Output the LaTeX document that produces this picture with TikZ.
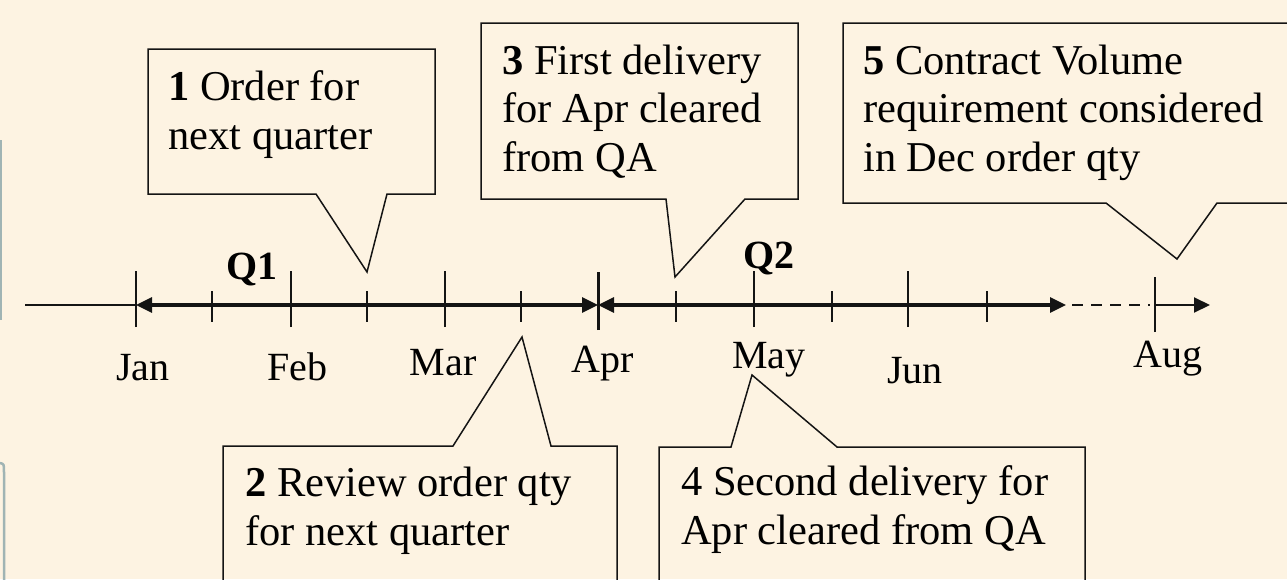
\documentclass[tikz,border=0pt]{standalone}
\usepackage{fontspec}
\setmainfont{Liberation Serif}
\usetikzlibrary{arrows.meta}
\definecolor{bg}{RGB}{253,243,226}
\definecolor{ink}{RGB}{20,20,20}
\definecolor{edgecol}{RGB}{160,180,180}
\begin{document}
\begin{tikzpicture}[x=1pt,y=-1pt,
 >={Triangle[length=16pt,width=15pt]},
 callout/.style={draw=ink, line width=1.5pt, line join=miter},
 txt/.style={anchor=base west, inner sep=0pt, font=\fontsize{42.5}{48.5}\selectfont, align=left},
 month/.style={anchor=base, inner sep=0pt, font=\fontsize{40}{48}\selectfont},
 qlabel/.style={anchor=base, inner sep=0pt, font=\fontsize{40}{48}\selectfont\bfseries},
 major/.style={draw=ink, line width=2.2pt},
 minor/.style={draw=ink, line width=1.5pt},
 axis/.style={draw=ink, line width=3.2pt},
 thin axis/.style={draw=ink, line width=2.2pt}
]
\useasboundingbox (0,0) rectangle (1287,579);
\clip (0,0) rectangle (1287,579);
\fill[bg] (0,0) rectangle (1287,579);
% left edge remnants
\draw[edgecol, line width=2pt] (1,140) -- (1,320);
\draw[edgecol, line width=2.5pt] (0,463) .. controls (4,464) .. (4,472) -- (4,590);

% axis coordinates
\coordinate (start) at (25,305);
\coordinate (jan) at (136,305);
\coordinate (feb) at (291,305);
\coordinate (mar) at (445,305);
\coordinate (apr) at (598,305);
\coordinate (may) at (754,305);
\coordinate (jun) at (908,305);
\coordinate (jend) at (1066,305);
\coordinate (dashA) at (1072,305);
\coordinate (dashB) at (1150,305);
\coordinate (aug) at (1155,305);
\coordinate (end) at (1210,305);

\draw[thin axis] (start) -- (jan);
\draw[axis, <->] (jan) -- (apr);
\draw[axis, <->] (apr) -- (jend);
\draw[thin axis, dash pattern=on 11pt off 8pt] (dashA) -- (dashB);
\draw[line width=2pt, draw=ink, ->] (aug) -- (end);

% major ticks
\foreach \m in {jan,feb,mar,may,jun}{
  \draw[major] ([yshift=-22pt]\m) -- ([yshift=34pt]\m);
}
\draw[draw=ink, line width=3pt] ([yshift=-25pt]apr) -- ([yshift=33pt]apr);
\draw[draw=ink, line width=1.7pt] ([yshift=-27pt]aug) -- ([yshift=28pt]aug);
% minor ticks
\foreach \x in {212,367,521,676,832,987}{
  \draw[minor] (\x,291) -- (\x,322);
}

% month labels
\node[month] (ljan) at (143,380) {Jan};
\node[month] (lfeb) at (297,380) {Feb};
\node[month] (lmar) at (443,375) {Mar};
\node[month] (lapr) at (603,372) {Apr};
\node[month] (lmay) at (769,368) {May};
\node[month] (ljun) at (915,383) {Jun};
\node[month] (laug) at (1168,367) {Aug};

\node[qlabel] (q1) at (252,279) {Q1};
\node[qlabel] (q2) at (769,268) {Q2};

% callout 1
\draw[callout] (148,49) -- (435,49) -- (435,194) -- (387,194) -- (367,272) -- (316,194) -- (148,194) -- cycle;
\node[txt] (t1) at (168,149) {\textbf{1} Order for\\next quarter};

% callout 3
\draw[callout] (481,23) -- (798,23) -- (798,199) -- (745,199) -- (675,277) -- (666,199) -- (481,199) -- cycle;
\node[txt] (t3) at (502,171) {\textbf{3} First delivery\\for Apr cleared\\from QA};

% callout 5
\draw[callout] (843,23) -- (1300,23) -- (1300,203) -- (1217,203) -- (1177,259) -- (1106,203) -- (843,203) -- cycle;
\node[txt] (t5) at (863,171) {\textbf{5} Contract Volume\\requirement considered\\in Dec order qty};

% callout 2
\draw[callout] (223,600) -- (223,446) -- (453,446) -- (522,337) -- (551,446) -- (617,446) -- (617,600);
\node[txt] (t2) at (245,545) {\textbf{2} Review order qty\\for next quarter};

% callout 4
\draw[callout] (659,600) -- (659,447) -- (731,447) -- (752,375) -- (837,447) -- (1085,447) -- (1085,600);
\node[txt] (t4) at (681,544) {4 Second delivery for\\Apr cleared from QA};
\end{tikzpicture}
\end{document}
